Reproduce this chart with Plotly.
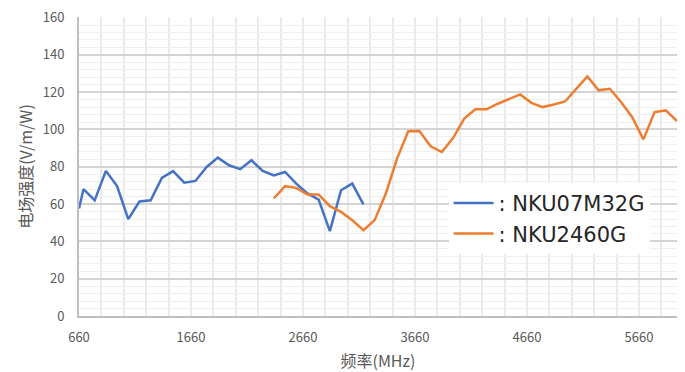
import plotly.graph_objects as go

# Frequencies (MHz) and field strength (V/m/W)
freq_07m32g = [660, 700, 800, 900, 1000, 1100, 1200, 1300, 1400, 1500, 1600, 1700, 1800, 1900, 2000,
               2100, 2200, 2300, 2400, 2500, 2600, 2700, 2800, 2900, 3000, 3100, 3200]
field_07m32g = [57.6, 68, 62, 77.8, 69.7, 51.9, 61.4, 62, 74, 77.7, 71.5, 72.4, 79.9, 84.9, 80.8,
                78.7, 83.5, 77.8, 75.4, 77.2, 71, 65.7, 62.4, 45.5, 67.4, 71, 59.8]

freq_2460g = [2400, 2500, 2600, 2700, 2800, 2900, 3000, 3100, 3200, 3300, 3400, 3500, 3600, 3700,
              3800, 3900, 4000, 4100, 4200, 4300, 4400, 4500, 4600, 4700, 4800, 4900, 5000, 5100,
              5200, 5300, 5400, 5500, 5600, 5700, 5800, 5900, 6000]
field_2460g = [63, 69.6, 68.7, 65.1, 65.1, 58.9, 55.8, 51.4, 46, 51.4, 65.7, 84.4, 99, 99.2,
               91, 87.9, 95.4, 105.8, 110.8, 110.8, 113.8, 116.5, 118.8, 114.3, 112, 113.4, 115, 121.8,
               128.4, 121, 121.8, 114.7, 106.6, 94.7, 109.3, 110.2, 104.5]

x_ticks = [660, 1660, 2660, 3660, 4660, 5660]
y_ticks = [0, 20, 40, 60, 80, 100, 120, 140, 160]

font_family = "Noto Sans CJK SC, Noto Sans, sans-serif"

fig = go.Figure()

fig.add_trace(go.Scatter(
    x=freq_07m32g, y=field_07m32g, mode='lines',
    name=': NKU07M32G',
    line=dict(color='#4472C4', width=2.5),
))
fig.add_trace(go.Scatter(
    x=freq_2460g, y=field_2460g, mode='lines',
    name=': NKU2460G',
    line=dict(color='#ED7D31', width=2.5),
))

# page body has an 8px margin, so the figure is a bit smaller and shifted
fig.update_layout(
    width=677, height=364,
    margin=dict(l=71, r=8, t=9, b=56),
    paper_bgcolor='white',
    plot_bgcolor='white',
    font=dict(family=font_family, color='#595959', size=13),
    showlegend=True,
    legend=dict(
        x=0.618, y=0.445, xanchor='left', yanchor='top',
        bgcolor='white', borderwidth=0,
        font=dict(size=21, color='#262626', family="DejaVu Sans, sans-serif"),
        tracegroupgap=0, itemwidth=40,
    ),
)

fig.update_xaxes(
    range=[660, 6000], automargin=False,
    tickvals=x_ticks, ticklabelstandoff=8,
    ticks='', showline=True, linecolor='#bfbfbf', linewidth=2,
    showgrid=True, gridcolor='#ebebeb', gridwidth=2,
    minor=dict(dtick=200, tick0=660, showgrid=True, gridcolor='#ebebeb', gridwidth=2),
    zeroline=False,
    title=dict(text='频率(MHz)', font=dict(size=16, color='#595959'), standoff=14),
)
fig.update_yaxes(
    range=[0, 160.3], automargin=False,
    tickvals=y_ticks, ticklabelstandoff=10, ticklabeloverflow='allow',
    ticks='', showline=True, linecolor='#bfbfbf', linewidth=2,
    showgrid=True, gridcolor='#d4d4d4', gridwidth=2,
    minor=dict(dtick=4, showgrid=True, gridcolor='#efefef', gridwidth=1),
    zeroline=False,
    title=dict(text='电场强度(V/m/W)', font=dict(size=16, color='#595959'), standoff=6),
)

fig.write_html("out.html")
